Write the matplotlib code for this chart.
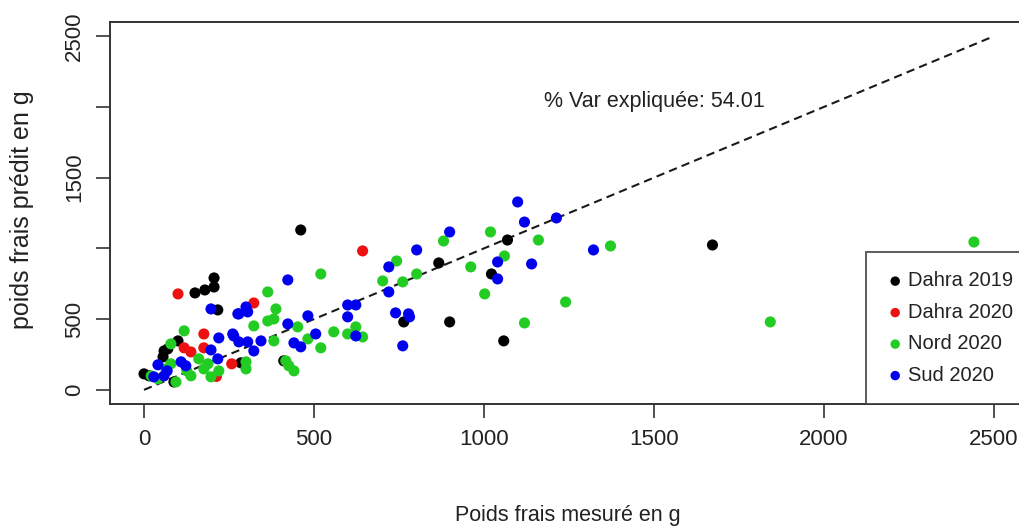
import matplotlib
matplotlib.use("Agg")
import matplotlib.pyplot as plt

# Police : le graphique d'origine est comprimé horizontalement,
# on compense avec une taille un peu plus petite pour le texte horizontal
police = "Liberation Sans"

# Données (poids mesuré, poids prédit)
dahra2019_x = [206, 206, 179, 150, 217, 100, 70, 59, 0, 15, 88, 56, 461, 285, 411,
               867, 1069, 1022, 764, 899, 1058, 1672]
dahra2019_y = [791, 727, 706, 685, 565, 346, 290, 275, 113, 99, 56, 233, 1130, 191, 205,
               897, 1059, 819, 480, 480, 346, 1024]

dahra2020_x = [100, 176, 176, 118, 138, 258, 323, 643, 213]
dahra2020_y = [678, 395, 297, 297, 268, 184, 614, 982, 95]

nord2020_x = [118, 79, 21, 41, 94, 138, 161, 176, 188, 197, 220, 79, 126, 65,
              520, 364, 388, 364, 382, 323, 452, 382, 558, 599, 520, 300, 300, 417,
              426, 441, 623, 643, 482, 702, 743, 761, 802, 881, 961, 1019, 1060,
              1160, 1002, 1119, 1240, 1372, 1842, 2441]
nord2020_y = [417, 325, 99, 78, 56, 99, 219, 148, 184, 92, 134, 184, 134, 148,
              819, 692, 572, 487, 501, 452, 445, 346, 410, 395, 297, 198, 148, 205,
              170, 134, 445, 374, 360, 770, 911, 763, 819, 1052, 869, 1116, 946,
              1059, 678, 473, 621, 1017, 480, 1045]

sud2020_x = [197, 220, 279, 264, 197, 217, 109, 123, 41, 59, 29, 68,
             423, 300, 276, 305, 261, 279, 305, 323, 344, 423, 482, 441, 461, 505,
             599, 623, 599, 623, 1099, 1119, 1213, 899, 802, 720, 720, 1040, 1040,
             1140, 740, 778, 781, 761, 1322]
sud2020_y = [572, 367, 537, 381, 282, 219, 198, 170, 177, 99, 92, 134,
             777, 586, 537, 551, 395, 339, 339, 275, 346, 466, 523, 332, 304, 395,
             600, 600, 516, 381, 1328, 1186, 1215, 1116, 989, 869, 692, 904, 784,
             890, 544, 537, 516, 311, 989]

groupes = ["Dahra 2019", "Dahra 2020", "Nord 2020", "Sud 2020"]
couleurs = ["black", "#ee1111", "#22cc22", "#0000ee"]
series_x = [dahra2019_x, dahra2020_x, nord2020_x, sud2020_x]
series_y = [dahra2019_y, dahra2020_y, nord2020_y, sud2020_y]

W, H = 1019, 531
fig = plt.figure(figsize=(W / 100, H / 100), dpi=100)
# la zone de tracé dépasse à droite de l'image (image rognée)
ax = fig.add_axes([110 / W, 1 - 404 / H, 918 / W, 382 / H])

for gx, gy, c, nom in zip(series_x, series_y, couleurs, groupes):
    ax.scatter(gx, gy, s=64, color=c, edgecolors="none", label=nom, zorder=3)

ax.plot([0, 2500], [0, 2500], ls=(0, (4, 2.5)), color="#1a1a1a", lw=1.5, zorder=2)

ax.text(1500, 2035, "% Var expliquée: 54.01", ha="center", va="center",
        fontsize=15.5, family=police, color="#222222")

ax.set_xlim(-100, 2600)
ax.set_ylim(-100, 2600)
ax.set_xticks([0, 500, 1000, 1500, 2000, 2500])
ax.set_xticklabels(["0", "500", "1000", "1500", "2000", "2500"], family=police,
                   fontsize=16, color="#222222")
ax.set_yticks([0, 500, 1000, 1500, 2000, 2500])
ax.set_yticklabels(["0", "500", "", "1500", "", "2500"], family=police,
                   fontsize=16, color="#222222", rotation=90, va="center")
ax.tick_params(direction="out", length=10, width=1.2, color="#333333", pad=8)

for sp in ax.spines.values():
    sp.set_linewidth(1.4)
    sp.set_color("#333333")

leg = ax.legend(loc="lower left", bbox_to_anchor=(866 / W, 1 - 404 / H),
                bbox_transform=fig.transFigure, borderaxespad=0, frameon=True,
                fancybox=False, prop={"family": police, "size": 14.5},
                markerscale=0.85, handletextpad=0.15, labelspacing=0.62,
                borderpad=0.95, handlelength=1.0)
leg.get_frame().set_edgecolor("#333333")
leg.get_frame().set_linewidth(1.4)
for t in leg.get_texts():
    t.set_color("#222222")

fig.text(568 / W, 1 - 516 / H, "Poids frais mesuré en g", ha="center", va="center",
         fontsize=15.5, family=police, color="#222222")
fig.text(22 / W, 1 - 210 / H, "poids frais prédit en g", ha="center", va="center",
         rotation=90, fontsize=18, family=police, color="#222222")

fig.savefig("out.png", dpi=100)
